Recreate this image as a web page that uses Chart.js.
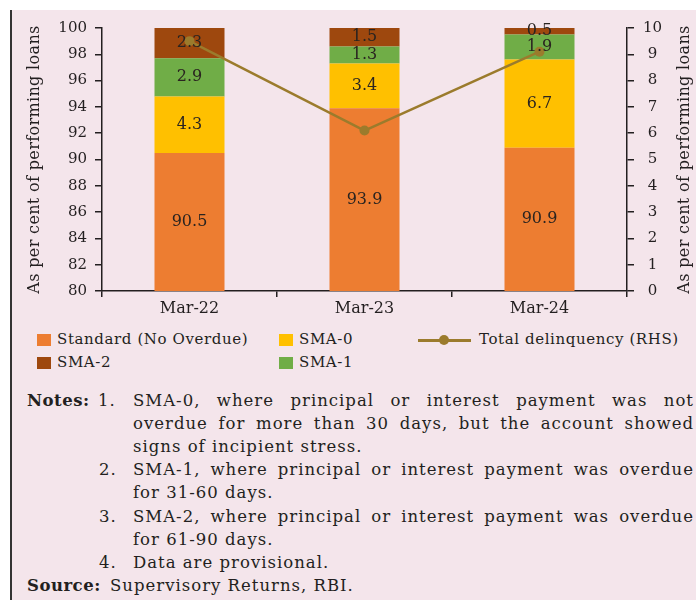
<!DOCTYPE html>
<html>
<head>
<meta charset="utf-8">
<script src="https://cdn.jsdelivr.net/npm/chart.js@4.4.1/dist/chart.umd.min.js"></script>
<style>
  body { margin: 0; background: #fff; }
  #page { position: relative; width: 696px; height: 600px; overflow: hidden; background: #fff;
          font-family: 'DejaVu Serif', serif; color: #231f20; }
  #panel { position: absolute; left: 10px; top: 10px; width: 684px; height: 590px;
           background: #f4e5eb; border-left: 2px solid #333; }
  #chartBox { position: absolute; left: 12px; top: 10px; width: 684px; height: 320px; }
  .leg { position: absolute; font-size: 15px; letter-spacing: 0.6px; line-height: 18px; white-space: nowrap; }
  .sw { position: absolute; width: 14px; height: 12px; }
  .nl { position: absolute; left: 0; width: 696px; height: 23px; line-height: 23px;
        font-size: 16.5px; letter-spacing: 1px; white-space: nowrap; }
  .nl span { position: absolute; top: 0; }
  .lab { left: 27px; font-weight: bold; letter-spacing: 0.5px; }
  .num { left: 99px; }
  .txt { left: 133px; width: 561px; }
  .j { text-align: justify; text-align-last: justify; white-space: normal; }
</style>
</head>
<body>
<div id="page">
  <div id="panel"></div>
  <div id="chartBox"><canvas id="mainChart" width="684" height="320"></canvas></div>
  <div id="legend"></div>
  <div id="notes">
    <div class="nl" style="top:389px"><span class="lab">Notes:</span><span class="num" style="left:98px">1.</span><span class="txt j">SMA-0, where principal or interest payment was not</span></div>
    <div class="nl" style="top:412px"><span class="txt j">overdue for more than 30 days, but the account showed</span></div>
    <div class="nl" style="top:435px"><span class="txt">signs of incipient stress.</span></div>
    <div class="nl" style="top:458px"><span class="num">2.</span><span class="txt j">SMA-1, where principal or interest payment was overdue</span></div>
    <div class="nl" style="top:481px"><span class="txt">for 31-60 days.</span></div>
    <div class="nl" style="top:505px"><span class="num">3.</span><span class="txt j">SMA-2, where principal or interest payment was overdue</span></div>
    <div class="nl" style="top:528px"><span class="txt">for 61-90 days.</span></div>
    <div class="nl" style="top:551px"><span class="num">4.</span><span class="txt">Data are provisional.</span></div>
    <div class="nl" style="top:574px"><span class="lab">Source:</span><span style="left:110px">Supervisory Returns, RBI.</span></div>
  </div>
</div>
<script>
// data
const categories = ['Mar-22', 'Mar-23', 'Mar-24'];
const standard = [90.5, 93.9, 90.9];
const sma0 = [4.3, 3.4, 6.7];
const sma1 = [2.9, 1.3, 1.9];
const sma2 = [2.3, 1.5, 0.5];
const totalDelinquency = [9.5, 6.1, 9.1];

const seriesNames = ['Standard (No Overdue)', 'SMA-0', 'SMA-1', 'SMA-2', 'Total delinquency (RHS)'];
const colours = ['#ed7d31', '#ffc000', '#70ad47', '#9e480e', '#9b7b2c'];

const axisColor = '#231f20';
const textColor = '#231f20';
const axisTitle = 'As per cent of performing loans';

Chart.defaults.font.family = "'DejaVu Serif', serif";
Chart.defaults.color = textColor;

// value labels in the middle of the visible part of every bar segment
const segmentLabels = {
  id: 'segmentLabels',
  afterDatasetsDraw(chart) {
    const ctx = chart.ctx;
    const area = chart.chartArea;
    ctx.save();
    ctx.font = "16px 'DejaVu Serif', serif";
    ctx.fillStyle = '#2a2420';
    ctx.textAlign = 'center';
    ctx.textBaseline = 'middle';
    chart.data.datasets.forEach((ds, i) => {
      if (ds.type === 'line') return;
      const meta = chart.getDatasetMeta(i);
      meta.data.forEach((bar, j) => {
        const top = Math.max(bar.y, area.top);
        const bottom = Math.min(bar.base, area.bottom);
        ctx.fillText(ds.data[j].toFixed(1), bar.x, (top + bottom) / 2);
      });
    });
    ctx.restore();
  }
};

// both axis titles read bottom to top
const axisTitles = {
  id: 'axisTitles',
  afterDraw(chart) {
    const ctx = chart.ctx;
    const midY = (chart.chartArea.top + chart.chartArea.bottom) / 2;
    ctx.save();
    ctx.font = "16px 'DejaVu Serif', serif";
    ctx.letterSpacing = '0.35px';
    ctx.fillStyle = textColor;
    ctx.textAlign = 'center';
    ctx.textBaseline = 'middle';
    [23, 673].forEach(x => {
      ctx.save();
      ctx.translate(x, midY);
      ctx.rotate(-Math.PI / 2);
      ctx.fillText(axisTitle, 0, 0);
      ctx.restore();
    });
    ctx.restore();
  }
};

function axisGrid(len) {
  return { drawOnChartArea: false, drawTicks: true, tickLength: len, color: axisColor, lineWidth: 1.5 };
}

const barSets = [standard, sma0, sma1, sma2].map((d, i) => ({
  type: 'bar',
  label: seriesNames[i],
  data: d,
  backgroundColor: colours[i],
  borderWidth: 0,
  stack: 'share',
  yAxisID: 'y',
  order: 2,
  barPercentage: 0.4,
  categoryPercentage: 1
}));

const ctx = document.getElementById('mainChart').getContext('2d');
const mainChart = new Chart(ctx, {
  data: {
    labels: categories,
    datasets: [
      ...barSets,
      {
        type: 'line',
        label: seriesNames[4],
        data: totalDelinquency,
        borderColor: colours[4],
        backgroundColor: colours[4],
        borderWidth: 2.5,
        pointRadius: 5,
        pointHoverRadius: 5,
        pointBorderWidth: 0,
        tension: 0,
        yAxisID: 'y1',
        stack: 'line',
        order: 1
      }
    ]
  },
  options: {
    responsive: false,
    animation: false,
    layout: { padding: { top: 13, left: 0, right: 0, bottom: 0 } },
    plugins: { legend: { display: false }, tooltip: { enabled: false } },
    scales: {
      x: {
        stacked: true,
        grid: { ...axisGrid(6), offset: true },
        border: { color: axisColor, width: 1.5 },
        ticks: { font: { size: 16 }, padding: 2, color: textColor },
        afterFit: s => { s.height = 39; }
      },
      y: {
        stacked: true,
        position: 'left',
        min: 80,
        max: 100,
        ticks: { stepSize: 2, font: { size: 15 }, padding: 8, color: textColor },
        grid: axisGrid(7),
        border: { color: axisColor, width: 1.5 },
        afterFit: s => { s.width = 90; }
      },
      y1: {
        position: 'right',
        stacked: false,
        min: 0,
        max: 10,
        ticks: { stepSize: 1, font: { size: 15 }, padding: 9, crossAlign: 'center', color: textColor },
        grid: axisGrid(7),
        border: { color: axisColor, width: 1.5 },
        afterFit: s => { s.width = 69; }
      }
    }
  },
  plugins: [segmentLabels, axisTitles]
});

// legend laid out as in the source: three columns, two rows
function buildLegend(chart) {
  const box = document.getElementById('legend');
  const ds = chart.data.datasets;
  const slots = [
    { i: 0, x: 37, y: 340 }, { i: 1, x: 279, y: 340 }, { i: 4, x: 418, y: 340 },
    { i: 3, x: 37, y: 363 }, { i: 2, x: 279, y: 363 }
  ];
  slots.forEach(s => {
    const d = ds[s.i];
    let html;
    if (d.type === 'line') {
      html = `<div class="sw" style="left:${s.x}px;top:${s.y - 1}px;width:53px;height:3px;background:${d.borderColor}"></div>` +
             `<div class="sw" style="left:${s.x + 21}px;top:${s.y - 5}px;width:10px;height:10px;border-radius:50%;background:${d.borderColor}"></div>` +
             `<div class="leg" style="left:${s.x + 61}px;top:${s.y - 10}px">${d.label}</div>`;
    } else {
      html = `<div class="sw" style="left:${s.x}px;top:${s.y - 6}px;background:${d.backgroundColor}"></div>` +
             `<div class="leg" style="left:${s.x + 20}px;top:${s.y - 10}px">${d.label}</div>`;
    }
    box.insertAdjacentHTML('beforeend', html);
  });
}
buildLegend(mainChart);
</script>
</body>
</html>
